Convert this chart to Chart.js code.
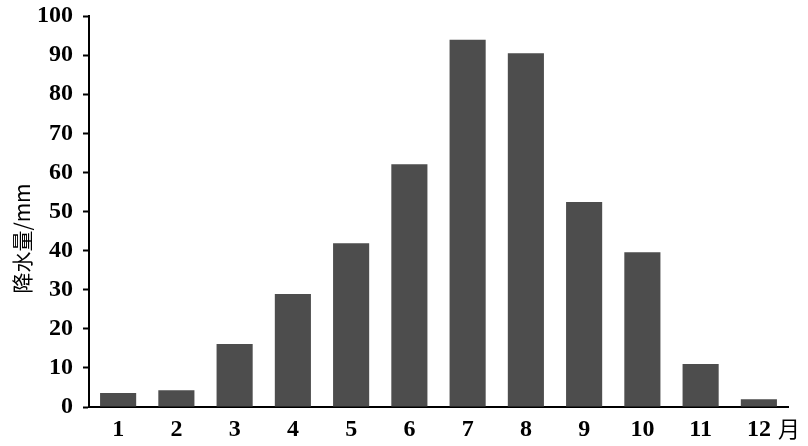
<!DOCTYPE html>
<html lang="zh">
<head>
<meta charset="UTF-8">
<title>降水量</title>
<script src="https://cdn.jsdelivr.net/npm/chart.js"></script>
<style>
  html, body { margin: 0; padding: 0; background: #fff; }
  #wrap { width: 808px; height: 446px; }
</style>
</head>
<body>
<div id="wrap"><canvas id="myChart"></canvas></div>
<script>
// monthly precipitation (mm)
const months = ['1', '2', '3', '4', '5', '6', '7', '8', '9', '10', '11', '12'];
const rain = [3.6, 4.3, 16.1, 28.9, 41.9, 62.1, 93.9, 90.5, 52.4, 39.6, 11.0, 2.0];
const yTicks = [0, 10, 20, 30, 40, 50, 60, 70, 80, 90, 100];

const serif = '"Liberation Serif", "Times New Roman", serif';
const cjk = '"Noto Sans CJK SC", ' + serif;

// y title and the "月" unit after the last x label
const extraText = {
    id: 'extraText',
    afterDraw(chart) {
        const ctx = chart.ctx;
        const x = chart.scales.x;
        const y = chart.scales.y;
        ctx.save();
        ctx.fillStyle = '#000';
        ctx.textBaseline = 'middle';

        ctx.font = '22px ' + cjk;
        ctx.textAlign = 'left';
        ctx.fillText('月', x.right - 10, x.top + 22);

        ctx.translate(22, (y.top + y.bottom) / 2 + 27);
        ctx.rotate(-Math.PI / 2);
        ctx.textAlign = 'center';
        ctx.font = '21px ' + cjk;
        ctx.fillText('降水量/mm', 0, 0);
        ctx.restore();
    }
};

new Chart(document.getElementById('myChart'), {
    type: 'bar',
    data: {
        labels: months,
        datasets: [{
            label: '降水量',
            data: rain,
            backgroundColor: '#4d4d4d',
            borderWidth: 0,
            categoryPercentage: 1,
            barPercentage: 0.62
        }]
    },
    options: {
        responsive: true,
        maintainAspectRatio: false,
        animation: false,
        layout: { padding: { top: 0, right: 20, left: 27, bottom: 0 } },
        plugins: {
            legend: { display: false },
            tooltip: { enabled: false }
        },
        scales: {
            x: {
                afterFit(axis) {
                    axis.height = 39;
                },
                grid: { display: false, drawTicks: false },
                border: { color: '#000', width: 2 },
                ticks: {
                    color: '#000',
                    padding: 8,
                    font: { family: serif, size: 24, weight: 'bold' },
                    maxRotation: 0
                }
            },
            y: {
                min: 0,
                max: 100,
                afterBuildTicks(axis) {
                    axis.ticks = yTicks.map(v => ({ value: v }));
                },
                afterFit(axis) {
                    axis.paddingTop = 16;
                },
                grid: { drawOnChartArea: false, tickLength: 6, color: '#000', tickWidth: 2 },
                border: { color: '#000', width: 2 },
                ticks: {
                    color: '#000',
                    padding: 10,
                    font: { family: serif, size: 24, weight: 'bold' }
                }
            }
        }
    },
    plugins: [extraText]
});
</script>
</body>
</html>
